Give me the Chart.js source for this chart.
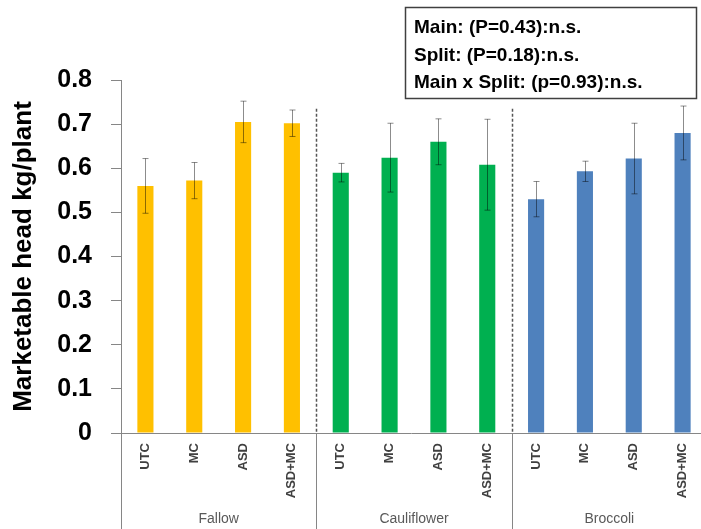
<!DOCTYPE html>
<html>
<head>
<meta charset="utf-8">
<script src="https://cdn.jsdelivr.net/npm/chart.js@4.4.0/dist/chart.umd.min.js"></script>
<style>
  html, body { margin: 0; padding: 0; background: #fff; }
  canvas { display: block; }
</style>
</head>
<body>
<canvas id="chart" width="701" height="529"></canvas>
<script>
// --- data ---
const treatments = ['UTC', 'MC', 'ASD', 'ASD+MC'];
const groups = ['Fallow', 'Cauliflower', 'Broccoli'];
const groupColors = ['#FFC000', '#00B050', '#4F81BD'];
const fallowMeans = [0.560, 0.572, 0.705, 0.702];
const fallowErr = [0.062, 0.041, 0.047, 0.030];
const caulifMeans = [0.590, 0.624, 0.660, 0.608];
const caulifErr = [0.021, 0.078, 0.052, 0.103];
const broccMeans = [0.530, 0.593, 0.622, 0.680];
const broccErr = [0.040, 0.023, 0.080, 0.061];
const yTicks = [0, 0.1, 0.2, 0.3, 0.4, 0.5, 0.6, 0.7, 0.8];
const statLines = ['Main: (P=0.43):n.s.', 'Split: (P=0.18):n.s.', 'Main x Split: (p=0.93):n.s.'];

const labels = groups.flatMap(() => treatments);
const means = [...fallowMeans, ...caulifMeans, ...broccMeans];
const errors = [...fallowErr, ...caulifErr, ...broccErr];
const barColors = groups.flatMap((g, i) => treatments.map(() => groupColors[i]));

const FONT = '"Liberation Sans", Arial, sans-serif';
const AXIS_GRAY = '#868686';

// plot area in the original runs a few px past the right edge
const extendRight = {
    id: 'extendRight',
    afterLayout(chart) {
        const x = chart.scales.x;
        x.right = chart.width + 6;
        x.width = x.right - x.left;
        chart.chartArea.right = x.right;
        chart.chartArea.width = x.right - chart.chartArea.left;
        x.configure();
    }
};

const errorBars = {
    id: 'errorBars',
    afterDatasetsDraw(chart) {
        const ctx = chart.ctx;
        const y = chart.scales.y;
        const meta = chart.getDatasetMeta(0);
        ctx.save();
        ctx.strokeStyle = 'rgba(0,0,0,0.45)';
        ctx.lineWidth = 1;
        meta.data.forEach((bar, i) => {
            const top = y.getPixelForValue(means[i] + errors[i]);
            const bot = y.getPixelForValue(means[i] - errors[i]);
            const cx = Math.round(bar.x) + 0.5;
            ctx.beginPath();
            ctx.moveTo(cx, top); ctx.lineTo(cx, bot);
            ctx.moveTo(cx - 3, top); ctx.lineTo(cx + 3, top);
            ctx.moveTo(cx - 3, bot); ctx.lineTo(cx + 3, bot);
            ctx.stroke();
        });
        ctx.restore();
    }
};

const groupDecor = {
    id: 'groupDecor',
    afterDraw(chart) {
        const ctx = chart.ctx;
        const area = chart.chartArea;
        const x = chart.scales.x;
        const y = chart.scales.y;
        const n = treatments.length;
        const step = x.getPixelForValue(1) - x.getPixelForValue(0);
        ctx.save();

        // boundaries between groups
        const bounds = [];
        for (let g = 0; g <= groups.length; g++) {
            bounds.push(x.getPixelForValue(g * n) - step / 2);
        }

        // dashed dividers inside the plot
        ctx.strokeStyle = '#555';
        ctx.lineWidth = 1.5;
        ctx.setLineDash([3, 2]);
        bounds.slice(1, -1).forEach(bx => {
            const px = Math.round(bx) + 0.5;
            ctx.beginPath();
            ctx.moveTo(px, y.getPixelForValue(0.735));
            ctx.lineTo(px, area.bottom);
            ctx.stroke();
        });
        ctx.setLineDash([]);

        // solid separators under the axis
        ctx.strokeStyle = AXIS_GRAY;
        ctx.lineWidth = 1;
        bounds.forEach(bx => {
            const px = Math.round(bx) + 0.5;
            ctx.beginPath();
            ctx.moveTo(px, area.bottom);
            ctx.lineTo(px, chart.height);
            ctx.stroke();
        });

        // group names
        ctx.fillStyle = '#595959';
        ctx.font = '14px ' + FONT;
        ctx.textAlign = 'center';
        ctx.textBaseline = 'middle';
        groups.forEach((g, i) => {
            ctx.fillText(g, (bounds[i] + bounds[i + 1]) / 2, chart.height - 10);
        });

        // statistics box
        ctx.fillStyle = '#fff';
        ctx.fillRect(405, 7, 291, 91);
        ctx.strokeStyle = '#404040';
        ctx.lineWidth = 1.5;
        ctx.strokeRect(405.5, 7.5, 291, 91);
        ctx.fillStyle = '#000';
        ctx.font = 'bold 19px ' + FONT;
        ctx.textAlign = 'left';
        ctx.textBaseline = 'alphabetic';
        statLines.forEach((t, i) => ctx.fillText(t, 414, 33 + i * 27.5));

        ctx.restore();
    }
};

new Chart(document.getElementById('chart'), {
    type: 'bar',
    data: {
        labels: labels,
        datasets: [{
            data: means,
            backgroundColor: barColors,
            borderWidth: 0,
            barPercentage: 0.33,
            categoryPercentage: 1
        }]
    },
    options: {
        responsive: false,
        animation: false,
        devicePixelRatio: 1,
        layout: { padding: { top: 80, left: 0, right: 0, bottom: 0 } },
        plugins: { legend: { display: false }, tooltip: { enabled: false } },
        scales: {
            x: {
                offset: true,
                grid: { display: false, drawTicks: false },
                border: { display: true, color: AXIS_GRAY, width: 1 },
                ticks: {
                    minRotation: 90, maxRotation: 90, autoSkip: false, padding: 10,
                    color: '#404040',
                    font: { family: FONT, size: 13, weight: 'bold' }
                },
                afterFit(scale) { scale.height = 96; }
            },
            y: {
                min: 0, max: 0.8,
                afterBuildTicks(scale) { scale.ticks = yTicks.map(v => ({ value: v })); },
                grid: { drawOnChartArea: false, drawTicks: true, tickLength: 10, color: AXIS_GRAY },
                border: { display: true, color: AXIS_GRAY, width: 1 },
                ticks: {
                    padding: 19,
                    color: '#000',
                    font: { family: FONT, size: 25, weight: 'bold' },
                    callback: v => v === 0 ? '0' : v.toFixed(1)
                },
                title: {
                    display: true,
                    text: 'Marketable head kg/plant',
                    color: '#000',
                    font: { family: FONT, size: 26, weight: 'bold' },
                    padding: { top: 8, bottom: 0 }
                },
                afterFit(scale) { scale.width = 121; }
            }
        }
    },
    plugins: [extendRight, errorBars, groupDecor]
});
</script>
</body>
</html>
